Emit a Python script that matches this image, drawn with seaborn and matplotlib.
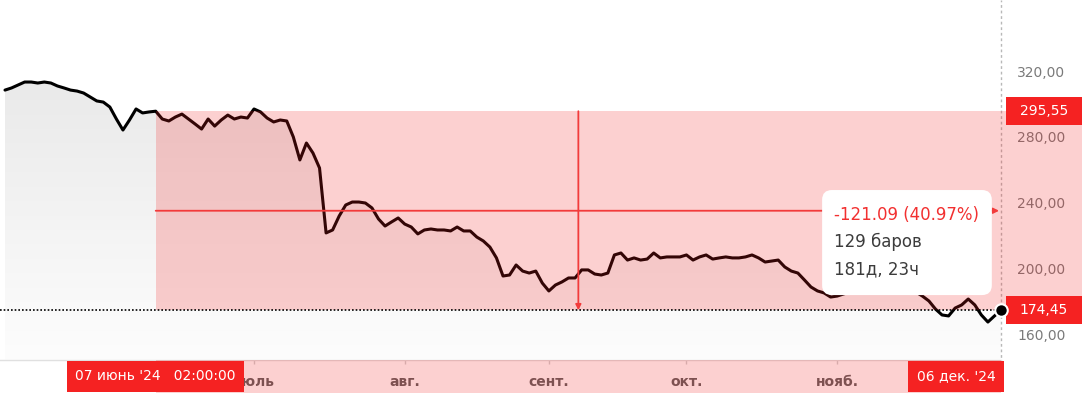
import numpy as np
import matplotlib.pyplot as plt
import seaborn as sns
from matplotlib.patches import Rectangle, FancyBboxPatch
from matplotlib.colors import LinearSegmentedColormap

# daily closes, one value per trading bar
prices = [
    308.4, 309.7, 311.5, 313.3, 313.3, 312.7, 313.3, 312.7, 310.9, 309.7,
    308.4, 307.8, 306.6, 304.2, 301.8, 301.1, 298.1, 290.8, 284.1, 290.2,
    296.9, 294.5, 295.1, 295.55, 290.8, 289.6, 292.0, 293.8, 290.8, 287.8,
    284.7, 290.8, 286.5, 290.2, 293.2, 290.8, 292.0, 291.4, 296.9, 295.1,
    291.4, 289.0, 290.2, 289.6, 279.9, 265.9, 276.2, 270.1, 261.0, 221.5,
    223.3, 231.8, 238.5, 240.3, 240.3, 239.7, 236.7, 230.0, 225.7, 228.2,
    230.6, 226.9, 225.1, 220.9, 223.3, 223.9, 223.3, 223.3, 222.7, 225.1,
    222.7, 222.7, 219.0, 216.6, 212.9, 206.3, 195.3, 195.9, 202.0, 198.3,
    197.1, 198.3, 191.0, 186.2, 189.8, 191.7, 194.1, 194.1, 199.0, 199.0,
    196.5, 195.9, 197.1, 208.1, 209.3, 205.0, 206.3, 205.0, 205.6, 209.3,
    206.3, 206.9, 206.9, 206.9, 208.1, 205.0, 206.9, 208.1, 205.6, 206.3,
    206.9, 206.3, 206.3, 206.9, 208.1, 206.3, 203.8, 204.4, 205.0, 200.8,
    198.3, 197.1, 192.9, 188.6, 186.2, 185.0, 182.5, 183.1, 184.4, 185.6,
    186.8, 187.4, 188.0, 188.6, 188.6, 189.2, 189.2, 188.6, 187.4, 185.6,
    183.1, 180.1, 175.2, 171.6, 171.0, 175.8, 177.7, 181.3, 177.7, 171.6,
    167.3, 171.0, 174.45]
bars = np.arange(len(prices))

month_ticks = [38, 61, 83, 104, 127]
month_labels = ['июль', 'авг.', 'сент.', 'окт.', 'нояб.']
price_ticks = [160, 200, 240, 280, 320]

start_bar, end_bar = 23, 152
start_price, end_price = 295.55, 174.45
start_label = "07 июнь '24   02:00:00"
end_label = "06 дек. '24"
tooltip_lines = ['-121.09 (40.97%)', '129 баров', '181д, 23ч']

red = '#f52222'
band_color = '#f52121'
band_alpha = 0.21

sns.set_style('white')
plt.rcParams['font.family'] = ['DejaVu Sans']

fig = plt.figure(figsize=(10.82, 3.93), dpi=100)
ax = fig.add_axes([0, 33 / 393, 1001 / 1082, 360 / 393])
ymin, ymax = 144.2, 363.2
xmin, xmax = -0.763, 152

# grey gradient under the line
poly = ax.fill_between(bars, prices, ymin, color='none', lw=0)
grad = np.linspace(0, 1, 256).reshape(-1, 1)
cmap = LinearSegmentedColormap.from_list('g', ['#fdfdfd', '#e9e9e9'])
img = ax.imshow(grad, extent=[xmin, xmax, ymin, 320], origin='lower', cmap=cmap,
                aspect='auto', zorder=1)
img.set_clip_path(poly.get_paths()[0], transform=ax.transData)

sns.lineplot(x=bars, y=prices, color='black', linewidth=2.2, ax=ax, zorder=3)

ax.set_xlim(xmin, xmax)
ax.set_ylim(ymin, ymax)

# measurement band
ax.fill_between([start_bar, end_bar], end_price, start_price, color=band_color,
                alpha=band_alpha, lw=0, zorder=5)
ax.add_patch(Rectangle((1.0, end_price), 0.081, start_price - end_price,
                       transform=ax.get_yaxis_transform(), color=band_color,
                       alpha=band_alpha, lw=0, clip_on=False, zorder=5))
ax.add_patch(Rectangle((start_bar, -33 / 360), end_bar - start_bar, 33 / 360,
                       transform=ax.get_xaxis_transform(), color=band_color,
                       alpha=band_alpha, lw=0, clip_on=False, zorder=5))

# crosshair arrows
mid_bar = (start_bar + end_bar) / 2
mid_price = (start_price + end_price) / 2
arrow = dict(arrowstyle='-|>', color='#f23b3b', lw=1.3, mutation_scale=8,
             shrinkA=0, shrinkB=0)
ax.annotate('', xy=(end_bar - 0.3, mid_price), xytext=(start_bar, mid_price),
            arrowprops=arrow, zorder=6)
ax.annotate('', xy=(mid_bar, end_price), xytext=(mid_bar, start_price),
            arrowprops=arrow, zorder=6)

ax.axhline(end_price, color='black', lw=1.2, ls=(0, (1, 1.2)), zorder=6)
ax.axvline(end_bar, ymin=-0.04, ymax=1, color='#b8b8b8', lw=1, ls=(0, (2, 2)),
           zorder=2, clip_on=False)
ax.plot([end_bar], [end_price], 'o', ms=9, mfc='black', mec='white', mew=1.5,
        zorder=8, clip_on=False)

# axes styling
for s in ['top', 'left', 'right']:
    ax.spines[s].set_visible(False)
ax.spines['bottom'].set_color('#e0e0e0')
ax.spines['bottom'].set_linewidth(1)

ax.set_xticks(month_ticks)
ax.set_xticklabels(month_labels, fontweight='bold')
ax.tick_params(axis='x', bottom=True, length=3, width=1, color='#cfcfcf',
               pad=7.5, labelsize=10, labelcolor='#5e5e5e')
ax.yaxis.tick_right()
ax.set_yticks(price_ticks)
ax.set_yticklabels([f'{p:.2f}'.replace('.', ',') for p in price_ticks])
ax.tick_params(axis='y', right=True, length=0, pad=11.5, labelsize=10,
               labelcolor='#7a7a7a')
ax.set_xlabel('')
ax.set_ylabel('')

# price labels on the right axis
for p in (start_price, end_price):
    ax.add_patch(Rectangle((1.005, p - 8.5), 0.076, 17,
                           transform=ax.get_yaxis_transform(), color=red, lw=0,
                           clip_on=False, zorder=7))
    ax.text(1.043, p, f'{p:.2f}'.replace('.', ','), transform=ax.get_yaxis_transform(),
            ha='center', va='center', color='white', fontsize=10, zorder=8,
            clip_on=False)

# date labels on the time axis
date_box = dict(boxstyle='square,pad=0.6', fc=red, ec='none')
ax.text(start_bar, -16.5 / 360, start_label, transform=ax.get_xaxis_transform(),
        ha='center', va='center', color='white', fontsize=10, bbox=date_box,
        zorder=8, clip_on=False)
ax.annotate(end_label, xy=(end_bar, -16.5 / 360), xycoords=ax.get_xaxis_transform(),
            xytext=(-4, 0), textcoords='offset points', ha='right', va='center',
            color='white', fontsize=10, bbox=date_box, zorder=8,
            annotation_clip=False)

# tooltip
tip_bar = 126.5
ax.add_patch(FancyBboxPatch((124.7, 183.7), 25.9, 63.9,
                            boxstyle='round,pad=0,rounding_size=1.5',
                            mutation_aspect=4.0, fc='white', ec='none', zorder=9))
ax.text(tip_bar, 232.4, tooltip_lines[0], fontsize=12, ha='left', va='center',
        color='#f23030', zorder=10)
ax.text(tip_bar, 216.0, tooltip_lines[1], fontsize=12, ha='left', va='center',
        color='#3c3c3c', zorder=10)
ax.text(tip_bar, 199.6, tooltip_lines[2], fontsize=12, ha='left', va='center',
        color='#3c3c3c', zorder=10)

fig.savefig('out.png', dpi=100)
